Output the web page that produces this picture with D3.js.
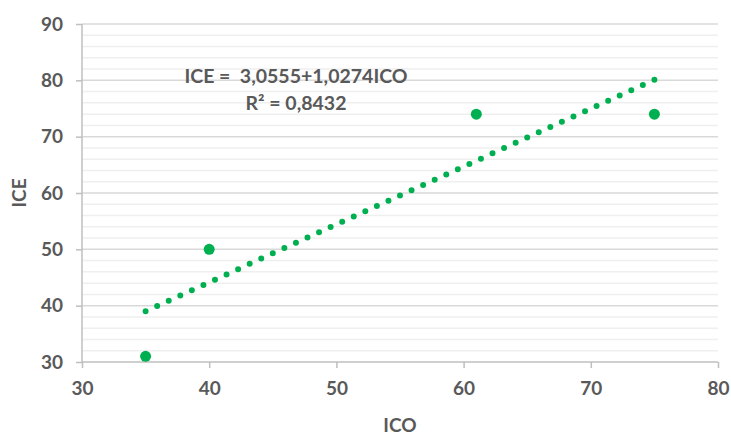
<!DOCTYPE html>
<html>
  <head>
    <meta charset="utf-8">
    <title>ICE vs ICO</title>
    <script src="https://d3js.org/d3.v7.min.js"></script>
    <style>
      body { margin: 0; background: #fff; }
      text { font-family: Lato, "Open Sans", sans-serif; font-weight: bold; fill: #595959; white-space: pre; }
    </style>
  </head>
  <body>
    <script>
      // data
      var icoValues = [35, 40, 61, 75];
      var iceValues = [31, 50, 74, 74];
      var xTicks = [30, 40, 50, 60, 70, 80];
      var yTicks = [30, 40, 50, 60, 70, 80, 90];
      var trendCoef = [3.0555, 1.0274];   // intercept, slope
      var equationLines = ["ICE =  3,0555+1,0274ICO", "R² = 0,8432"];

      var width = 731;
      var height = 435;
      var margin = {top: 24, left: 82, right: 13, bottom: 73};
      var green = "#00b050";

      var svg = d3.select("body")
        .append("svg")
        .attr("width", width)
        .attr("height", height);

      var xScale = d3.scaleLinear()
        .domain([30, 80])
        .range([margin.left, width - margin.right]);

      var yScale = d3.scaleLinear()
        .domain([30, 90])
        .range([height - margin.bottom, margin.top]);

      // minor gridlines every 2
      svg.append("g")
        .selectAll("line")
        .data(d3.range(32, 90, 2).filter(function(v) { return v % 10 != 0; }))
        .enter()
        .append("line")
          .attr("x1", margin.left)
          .attr("x2", width - margin.right)
          .attr("y1", function(d) { return yScale(d); })
          .attr("y2", function(d) { return yScale(d); })
          .attr("stroke", "#efefef")
          .attr("stroke-width", 1.5);

      // major gridlines
      svg.append("g")
        .selectAll("line")
        .data(yTicks.slice(1))
        .enter()
        .append("line")
          .attr("x1", margin.left)
          .attr("x2", width - margin.right)
          .attr("y1", function(d) { return yScale(d); })
          .attr("y2", function(d) { return yScale(d); })
          .attr("stroke", "#d9d9d9")
          .attr("stroke-width", 1.5);

      var xAxis = svg.append("g")
        .attr("transform", `translate(0,${height - margin.bottom})`)
        .call(d3.axisBottom(xScale).tickValues(xTicks).tickSize(6).tickPadding(14));

      var yAxis = svg.append("g")
        .attr("transform", `translate(${margin.left},0)`)
        .call(d3.axisLeft(yScale).tickValues(yTicks).tickSize(6).tickPadding(13));

      svg.selectAll(".domain, .tick line")
        .attr("stroke", "#bfbfbf")
        .attr("stroke-width", 1.5);
      xAxis.select(".domain").attr("d", `M${margin.left},0H${width - margin.right}`);
      yAxis.select(".domain").attr("d", `M0,${margin.top}V${height - margin.bottom}`);
      svg.selectAll(".tick text")
        .style("font-size", "19px")
        .attr("fill", "#595959");

      // dotted trendline, dot spacing fitted so both ends get a dot
      var x0 = d3.min(icoValues), x1 = d3.max(icoValues);
      var tx0 = xScale(x0), ty0 = yScale(trendCoef[0] + trendCoef[1] * x0);
      var tx1 = xScale(x1), ty1 = yScale(trendCoef[0] + trendCoef[1] * x1);
      var len = Math.hypot(tx1 - tx0, ty1 - ty0);
      var gap = len / Math.round(len / 12.85);
      svg.append("line")
        .attr("x1", tx0)
        .attr("y1", ty0)
        .attr("x2", tx1)
        .attr("y2", ty1)
        .attr("stroke", green)
        .attr("stroke-width", 6)
        .attr("stroke-linecap", "round")
        .attr("stroke-dasharray", `0 ${gap}`);

      svg.selectAll("circle.pt")
        .data(icoValues)
        .enter()
        .append("circle")
          .attr("class", "pt")
          .attr("cx", function(d) { return xScale(d); })
          .attr("cy", function(d, i) { return yScale(iceValues[i]); })
          .attr("r", 5.5)
          .attr("fill", green);

      svg.selectAll("text.eq")
        .data(equationLines)
        .enter()
        .append("text")
          .attr("class", "eq")
          .attr("x", 296)
          .attr("y", function(d, i) { return 83 + i * 27; })
          .attr("text-anchor", "middle")
          .style("font-size", "19.5px")
          .text(function(d) { return d; });

      var xLabel = svg.append("text")
        .attr("x", (margin.left + width - margin.right) / 2)
        .attr("y", 432)
        .attr("text-anchor", "middle")
        .style("font-size", "19px")
        .text("ICO");

      var yLabel = svg.append("text")
        .attr("transform", "rotate(-90)")
        .attr("x", -(margin.top + height - margin.bottom) / 2)
        .attr("y", 26)
        .attr("text-anchor", "middle")
        .style("font-size", "19px")
        .text("ICE");
    </script>
  </body>
</html>
